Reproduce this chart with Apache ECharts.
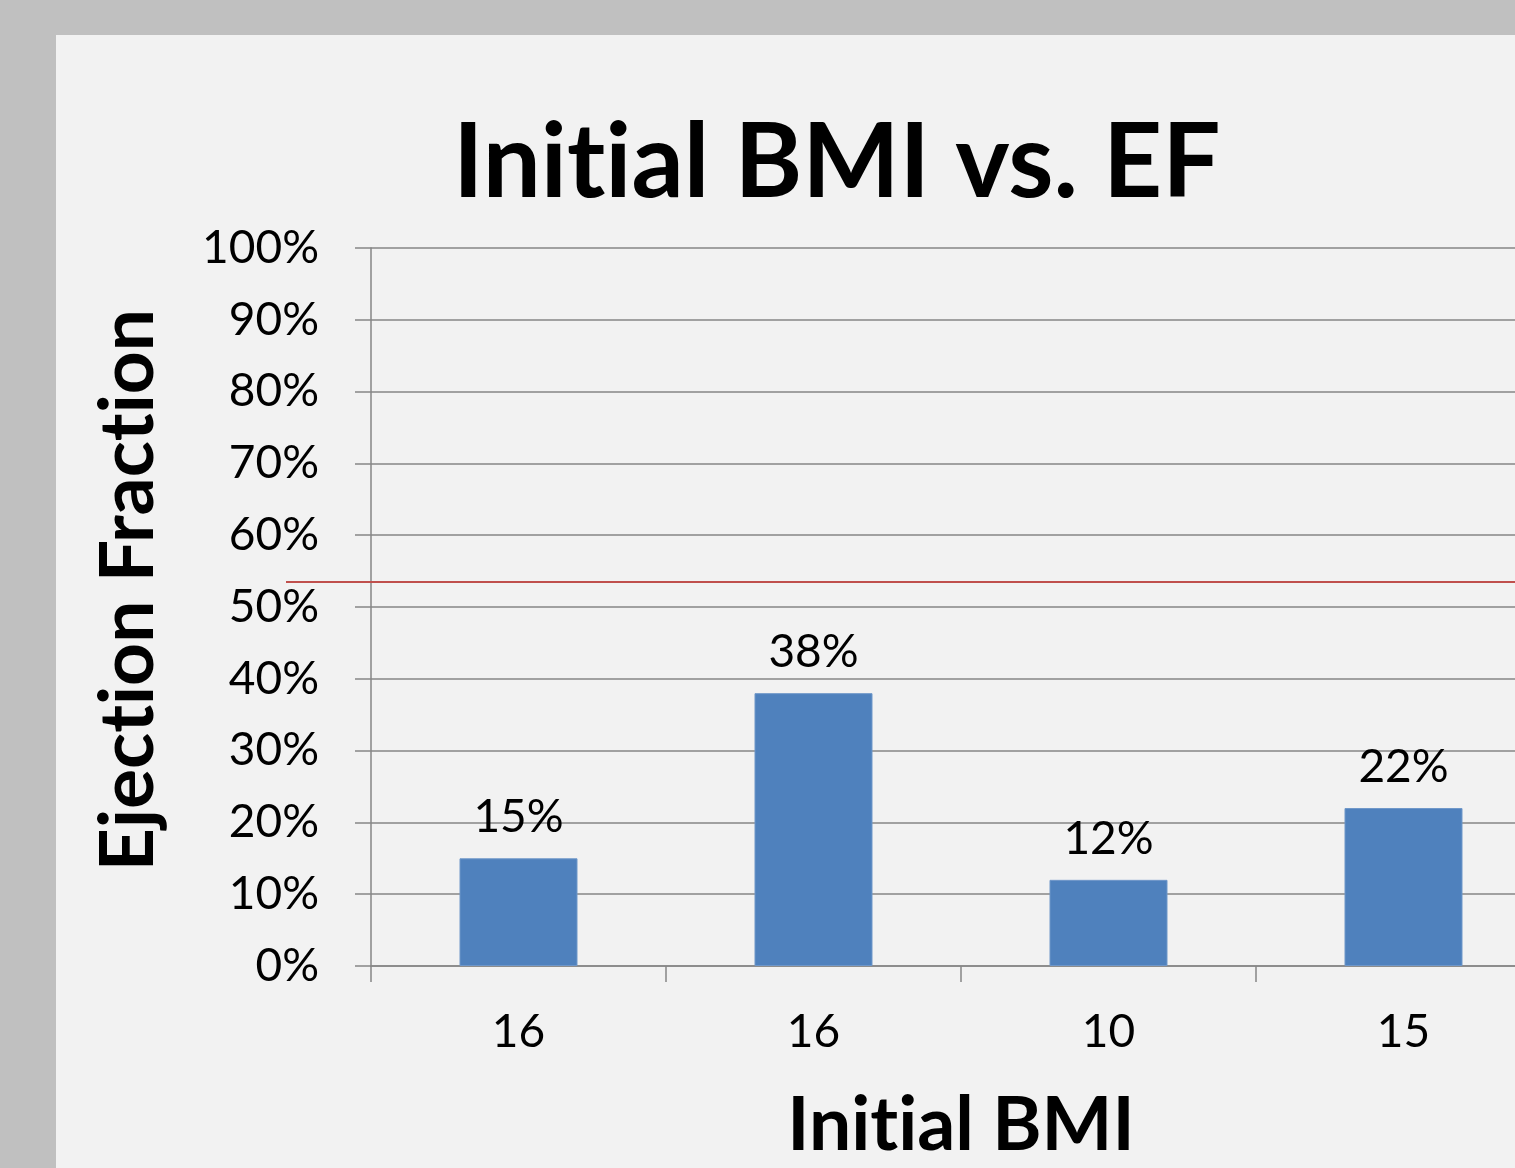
<!DOCTYPE html>
<html>
<head>
<meta charset="utf-8">
<script src="https://cdn.jsdelivr.net/npm/echarts@6/dist/echarts.min.js"></script>
<style>
  html, body { margin: 0; padding: 0; width: 1515px; height: 1168px; overflow: hidden; background: #c0c0c0; }
  #chart { position: absolute; left: 56px; top: 35px; width: 1600px; height: 1133px; background: #f2f2f2; }
</style>
</head>
<body>
<div id="chart"></div>
<script>
// data
var bmiLabels = ['16', '16', '10', '15'];
var efValues = [15, 38, 12, 22];
var efCutoff = 53.5;   // red reference line
var yTicks = { min: 0, max: 100, step: 10 };

var FONT = 'Lato';
// Lato joins "ti" into a ligature, the original font does not
function noLig(s) { return s.replace(/ti/g, 't\u200Ci'); }

var chart = echarts.init(document.getElementById('chart'), null, { renderer: 'canvas' });

var option = {
  backgroundColor: '#f2f2f2',
  animation: false,
  title: {
    text: noLig('Initial BMI vs. EF'),
    left: 392,
    top: 72,
    textStyle: { fontFamily: FONT, fontWeight: 'bold', fontSize: 103, color: '#000' }
  },
  grid: { left: 315, top: 213, right: 105, bottom: 202, outerBoundsMode: 'none' },
  xAxis: {
    type: 'category',
    data: bmiLabels,
    name: noLig('Initial BMI'),
    nameLocation: 'middle',
    nameGap: 122,
    nameTextStyle: { fontFamily: FONT, fontWeight: 'bold', fontSize: 75, color: '#000' },
    axisLine: { lineStyle: { color: '#868686', width: 1.5 } },
    axisTick: { show: true, length: 16, lineStyle: { color: '#868686', width: 1.5 } },
    axisLabel: { margin: 43, fontFamily: FONT, fontSize: 46, color: '#000' }
  },
  yAxis: {
    type: 'value',
    min: yTicks.min,
    max: yTicks.max,
    interval: yTicks.step,
    name: noLig('Ejection Fraction'),
    nameLocation: 'middle',
    nameRotate: 90,
    nameGap: 205,
    nameTextStyle: { fontFamily: FONT, fontWeight: 'bold', fontSize: 75, color: '#000', padding: [0, 0, 0, 34] },
    axisLine: { show: true, lineStyle: { color: '#868686', width: 1.5 } },
    axisTick: { show: true, length: 16, lineStyle: { color: '#868686', width: 1.5 } },
    splitLine: { lineStyle: { color: '#868686', width: 1.5 } },
    axisLabel: { margin: 52, fontFamily: FONT, fontSize: 46, color: '#000', formatter: '{value}%' }
  },
  series: [{
    type: 'bar',
    data: efValues,
    barWidth: '40%',
    itemStyle: { color: '#4f81bd', borderColor: '#6f97c9', borderWidth: 1 },
    label: {
      show: true,
      position: 'top',
      distance: 18,
      formatter: '{c}%',
      fontFamily: FONT,
      fontSize: 46,
      color: '#000'
    }
  }]
};
chart.setOption(option);

// red cutoff line, starts left of the axis so place it in pixels from the axis scale
var cutY = chart.convertToPixel({ yAxisIndex: 0 }, efCutoff);
chart.setOption({
  series: [{
    markLine: {
      silent: true,
      symbol: 'none',
      label: { show: false },
      lineStyle: { color: '#c0504d', width: 2, type: 'solid' },
      data: [[{ x: 230, y: cutY }, { x: 1600, y: cutY }]]
    }
  }]
});
</script>
</body>
</html>
